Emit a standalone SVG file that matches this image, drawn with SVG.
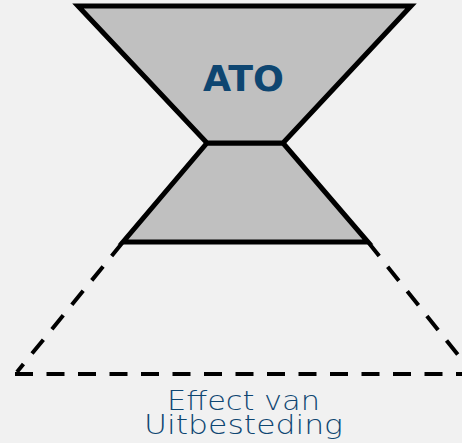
<svg xmlns="http://www.w3.org/2000/svg" width="462" height="443" viewBox="0 0 462 443">
<style>
.shape{fill:#c0c0c0;stroke:#000;stroke-width:5;stroke-linejoin:miter}
.dash{fill:none;stroke:#000;stroke-width:4;stroke-dasharray:18 13.5}
.lbl{font-family:"DejaVu Sans",sans-serif;fill:#0e4671;text-anchor:middle}
</style>
<rect width="462" height="443" fill="#f1f1f1"/>
<g id="connectors">
<path class="dash" d="M123,242 L17,372"/>
<path class="dash" d="M368,242 L470,370"/>
<path class="dash" d="M15,374 L462,374"/>
</g>
<g id="lower">
<polygon class="shape" points="207,143 283,143 368,242 123,242"/>
</g>
<g id="ato">
<polygon class="shape" points="78,6 411,6 283,143 207,143"/>
<text class="lbl" x="243.5" y="91" font-size="35" font-weight="bold" textLength="81" lengthAdjust="spacingAndGlyphs">ATO</text>
</g>
<g id="effect">
<text class="lbl" font-size="27" font-weight="200"><tspan x="243.5" y="410" textLength="153" lengthAdjust="spacingAndGlyphs">Effect van</tspan><tspan x="243.5" y="434" textLength="199" lengthAdjust="spacingAndGlyphs">Uitbesteding</tspan></text>
</g>
</svg>
